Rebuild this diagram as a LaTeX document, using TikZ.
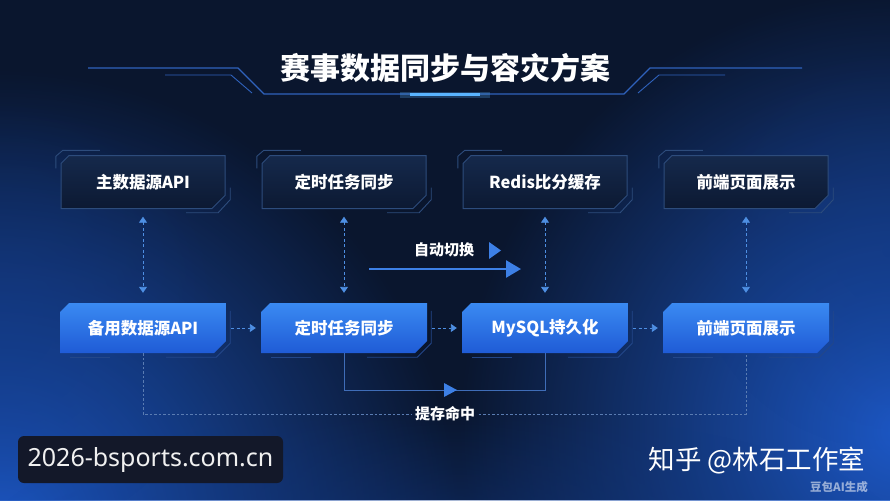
\documentclass[tikz,border=0pt]{standalone}
\usepackage{fontspec}
\newfontfamily\cjk{Noto Sans CJK SC}
\newfontfamily\wmfont{Noto Sans}
\usetikzlibrary{arrows.meta,fadings}
\definecolor{bgA}{HTML}{0A162E}
\definecolor{glowB}{HTML}{1D58C6}
\definecolor{glowD}{HTML}{123A88}
\definecolor{dashC}{HTML}{4E8FE3}
\definecolor{topF1}{HTML}{15294C}
\definecolor{topF2}{HTML}{0C1932}
\definecolor{topE}{HTML}{2D4C7C}
\definecolor{botF1}{HTML}{3A8AF2}
\definecolor{botF2}{HTML}{1F5BD6}
\definecolor{botE}{HTML}{23478A}
\definecolor{lineC}{HTML}{2F62BC}
\definecolor{glowL}{HTML}{5AB4FF}
\definecolor{swC}{HTML}{3D80E6}
\definecolor{brC}{HTML}{3F6DB8}
\definecolor{outC}{HTML}{5A7CB2}
\definecolor{wmbg}{HTML}{131829}
\tikzfading[name=softglow, inner color=transparent!0, outer color=transparent!100]
\tikzset{
  topbox/.style={minimum width=166pt, minimum height=55pt, inner sep=0pt,
    font=\cjk\bfseries\fontsize{16.5}{18}\selectfont, text=white,
    path picture={
      \path[top color=topF1, bottom color=topF2, draw=topE, line width=1pt]
       ([xshift=9pt,yshift=-1pt]path picture bounding box.north west)
       -- ([xshift=-1pt,yshift=-1pt]path picture bounding box.north east)
       -- ([xshift=-1pt,yshift=14pt]path picture bounding box.south east)
       -- ([xshift=-14pt,yshift=1pt]path picture bounding box.south east)
       -- ([xshift=1pt,yshift=1pt]path picture bounding box.south west)
       -- ([xshift=1pt,yshift=-9pt]path picture bounding box.north west) -- cycle;
    }},
  botbox/.style={minimum width=166pt, minimum height=50pt, inner sep=0pt,
    font=\cjk\bfseries\fontsize{16.5}{18}\selectfont, text=white,
    path picture={
      \path[top color=botF1, bottom color=botF2]
       ([xshift=9pt]path picture bounding box.north west)
       -- (path picture bounding box.north east)
       -- ([yshift=12pt]path picture bounding box.south east)
       -- ([xshift=-12pt]path picture bounding box.south east)
       -- (path picture bounding box.south west)
       -- ([yshift=-9pt]path picture bounding box.north west) -- cycle;
    }},
  vArr/.style={draw=dashC, line width=0.9pt, dash pattern=on 3pt off 2.5pt,
    {Triangle[length=6pt,width=8pt]}-{Triangle[length=6pt,width=8pt]}},
  hArr/.style={draw=dashC, line width=0.9pt, dash pattern=on 3pt off 2.5pt,
    -{Triangle[length=6pt,width=8pt]}},
  deco/.style={draw=lineC, line width=1.2pt},
  lbl/.style={font=\cjk\bfseries\fontsize{15}{17}\selectfont, text=white},
}
\begin{document}
\begin{tikzpicture}[x=1pt,y=-1pt]
\useasboundingbox (0,0) rectangle (890,500);
% background
\fill[bgA] (0,0) rectangle (890,500);
\begin{scope}
\clip (0,0) rectangle (890,500);
\fill[glowB, path fading=softglow] (0,530) circle (460pt);
\fill[glowB, path fading=softglow] (900,430) circle (440pt);
\fill[glowD, path fading=softglow, opacity=0.5] (445,540) ellipse (460pt and 130pt);
\fill[glowD, path fading=softglow, opacity=0.45] (0,320) circle (220pt);
\fill[glowD, path fading=softglow, opacity=0.35] (890,250) circle (200pt);
\end{scope}

% title
\node[font=\cjk\bfseries\fontsize{30}{34}\selectfont, text=white] (title) at (445,68) {赛事数据同步与容灾方案};
\draw[deco] (88,68) -- (238,68) -- (264,94) -- (624,94) -- (650,68) -- (802,68);
\draw[deco, line width=0.9pt] (165,75) -- (231,75) -- (252,93);
\draw[deco, line width=0.9pt] (725,75) -- (659,75) -- (638,93);
\draw[glowL, line width=6pt, opacity=0.25] (400,95) -- (490,95);
\draw[glowL, line width=3pt] (410,95) -- (480,95);

% top row
\node[topbox] (t1) at (143,182) {主数据源API};
\node[topbox] (t2) at (344,182) {定时任务同步};
\node[topbox] (t3) at (545,182) {Redis比分缓存};
\node[topbox] (t4) at (746,182) {前端页面展示};
\foreach \n in {t1,t2,t3,t4}{
  \draw[topE, line width=0.9pt] ([xshift=-4pt,yshift=-14pt]\n.north west) -- ([xshift=-4pt,yshift=-2pt]\n.north west) -- ([xshift=3pt,yshift=4pt]\n.north west) -- ([xshift=40pt,yshift=4pt]\n.north west);
  \draw[topE, line width=0.9pt] ([xshift=4pt,yshift=22pt]\n.south east) -- ([xshift=4pt,yshift=10pt]\n.south east) -- ([xshift=-8pt,yshift=-3pt]\n.south east) -- ([xshift=-40pt,yshift=-3pt]\n.south east);
}

% bottom row
\node[botbox] (b1) at (143,328) {备用数据源API};
\node[botbox] (b2) at (344,328) {定时任务同步};
\node[botbox] (b3) at (545,328) {MySQL持久化};
\node[botbox] (b4) at (746,328) {前端页面展示};
\foreach \n in {b1,b2,b3,b4}{
  \draw[botE, line width=0.9pt] ([xshift=4pt,yshift=-8pt]\n.north east) -- ([xshift=4pt,yshift=10pt]\n.south east) -- ([xshift=-10pt,yshift=-4pt]\n.south east) -- ([xshift=-60pt,yshift=-4pt]\n.south east);
  \draw[botE, line width=0.9pt] ([xshift=10pt,yshift=-4pt]\n.south west) -- ([xshift=50pt,yshift=-4pt]\n.south west);
}

% vertical dashed double arrows
\foreach \a/\b in {t1/b1,t2/b2,t3/b3,t4/b4}{
  \draw[vArr] ([yshift=-7pt]\a.south) -- ([yshift=10pt]\b.north);
}
% horizontal dashed arrows
\draw[hArr] ([xshift=5pt]b1.east) -- ([xshift=-5pt]b2.west);
\draw[hArr] ([xshift=5pt]b2.east) -- ([xshift=-5pt]b3.west);
\draw[hArr] ([xshift=5pt]b3.east) -- ([xshift=-5pt]b4.west);

% auto switch
\node[lbl] (sw) at (444,250) {自动切换};
\fill[swC] (489,242) -- (501,250.5) -- (489,259) -- cycle;
\coordinate (as1) at (369,269);
\coordinate (as2) at (521,269);
\draw[swC, line width=2.5pt, -{Triangle[length=15pt,width=17pt]}] (as1) -- (as2);

% solid bracket below
\draw[brC, line width=0.9pt] (b2.south) -- ++(0,37) -| (b3.south);
\fill[swC] (444,383) -- (457,390) -- (444,397) -- cycle;

% outer dashed bracket
\node[lbl] (hit) at (445,414) {提存命中};
\draw[outC, line width=0.8pt, dash pattern=on 2.5pt off 2pt] (b1.south) |- (hit.west);
\draw[outC, line width=0.8pt, dash pattern=on 2.5pt off 2pt] (hit.east) -| (b4.south);

% watermarks
\node[fill=wmbg, rounded corners=6pt, minimum width=265pt, minimum height=47pt, inner sep=0pt,
  font=\wmfont\fontsize{25}{28}\selectfont, text=white!94!black] (wm) at (150.5,459.5) {2026-bsports.com.cn};
\node[font=\cjk\fontsize{26.5}{30}\selectfont, text=white] (zh) at (757,461) {知乎 @林石工作室};
\node[font=\cjk\bfseries\fontsize{11.5}{13}\selectfont, text=white, opacity=0.55] (db) at (839,487) {豆包AI生成};
\end{tikzpicture}
\end{document}
